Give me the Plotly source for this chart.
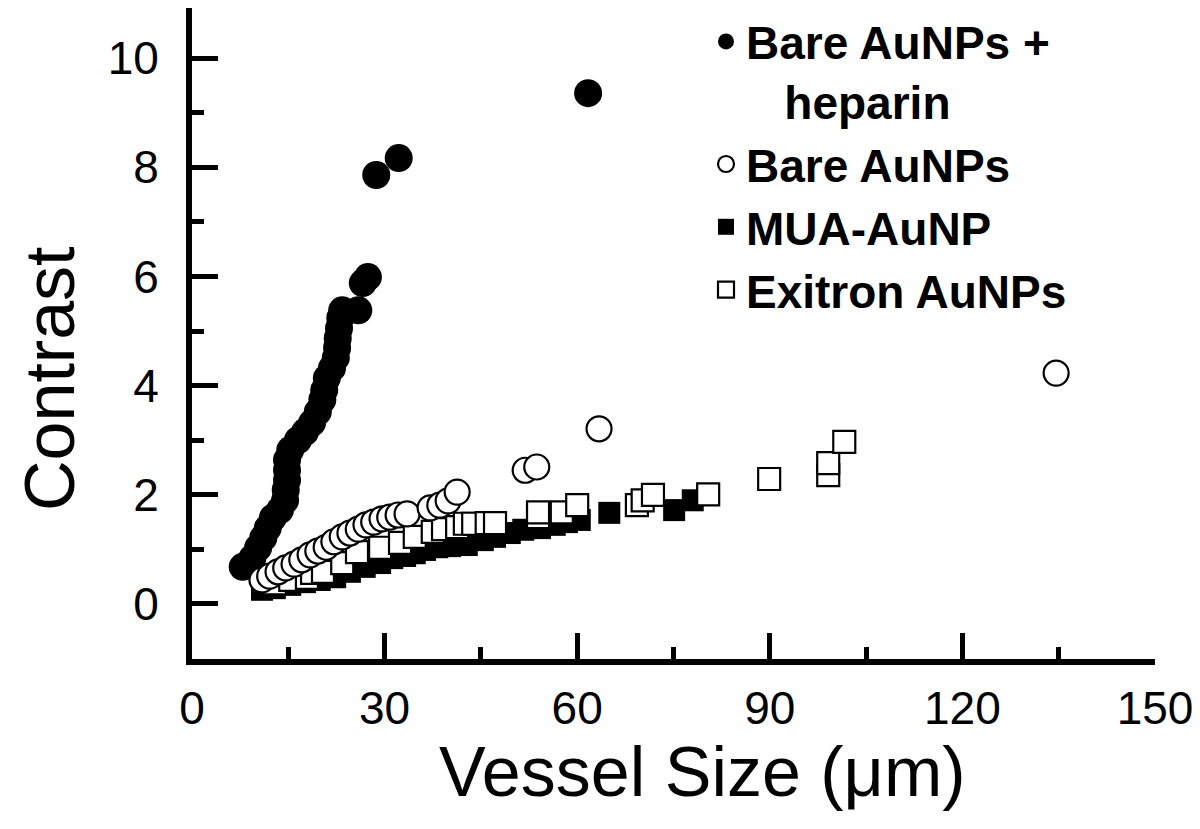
import plotly.graph_objects as go

# ---------------- data ----------------
hep_x = [7.9, 9.4, 10.3, 11.1, 11.8, 12.6, 13.7, 14.5, 14.6, 14.8, 14.8, 14.8, 15.3, 16.5,
         17.6, 18.7, 19.6, 20.3, 20.6, 21.0, 21.8, 22.4, 22.6, 22.7, 22.9, 23.1, 23.4,
         25.9, 26.6, 27.4, 28.7, 32.2, 61.7]
hep_y = [0.68, 0.84, 1.03, 1.21, 1.39, 1.58, 1.72, 1.90, 2.09, 2.27, 2.45, 2.64, 2.82, 3.00,
         3.15, 3.32, 3.52, 3.74, 3.92, 4.14, 4.32, 4.51, 4.69, 4.87, 5.05, 5.24, 5.38,
         5.38, 5.88, 5.99, 7.86, 8.17, 9.36]

bare_x = [10.9, 12.1, 13.4, 14.6, 15.9, 17.1, 18.4, 19.6, 20.9, 22.1, 23.4, 24.6, 25.9, 27.1,
          28.3, 29.6, 30.8, 32.1, 33.5, 37.1, 38.6, 39.9, 41.3, 51.9, 53.7, 63.4, 134.6]
bare_y = [0.44, 0.51, 0.59, 0.66, 0.73, 0.81, 0.90, 0.97, 1.04, 1.14, 1.23, 1.30, 1.37, 1.45,
          1.50, 1.56, 1.59, 1.63, 1.65, 1.76, 1.81, 1.89, 2.05, 2.45, 2.51, 3.21, 4.23]

mua_x = [10.9, 12.9, 15.3, 17.6, 19.9, 22.3, 24.6, 26.9, 29.3, 31.2, 33.2, 34.7, 36.3, 38.2,
         40.2, 42.8, 45.3, 47.2, 49.5, 51.6, 54.2, 56.5, 58.4, 60.4, 65.0, 75.1, 78.0]
mua_y = [0.26, 0.29, 0.35, 0.40, 0.44, 0.49, 0.59, 0.68, 0.75, 0.84, 0.88, 0.93, 0.99, 1.04,
         1.06, 1.08, 1.17, 1.23, 1.30, 1.36, 1.39, 1.45, 1.50, 1.54, 1.67, 1.72, 1.90]

exi_x = [12.9, 15.3, 17.9, 18.7, 20.4, 23.4, 25.7, 29.3, 32.4, 34.7, 37.5, 39.1, 41.3, 42.5,
         43.8, 45.9, 47.2, 53.9, 53.9, 57.6, 60.0, 69.3, 70.2, 71.8, 80.4, 89.9, 99.1, 99.1, 101.6]
exi_y = [0.38, 0.44, 0.48, 0.57, 0.59, 0.75, 0.95, 1.03, 1.12, 1.23, 1.32, 1.37, 1.41, 1.47,
         1.47, 1.48, 1.48, 1.59, 1.68, 1.68, 1.81, 1.81, 1.90, 2.00, 2.01, 2.29, 2.36, 2.58, 2.97]

names = ["Bare AuNPs +<br>\u00a0\u00a0\u00a0heparin", "Bare AuNPs", "MUA-AuNP", "Exitron AuNPs"]

x_ticks = [0, 30, 60, 90, 120, 150]
y_ticks = [0, 2, 4, 6, 8, 10]

# ---------------- layout constants ----------------
# the page body adds an 8 px offset; positions below are in figure pixels
OFF = 8
W, H = 1200, 829
L, R, T, B = 192 - OFF, 53, 0, 178
PW, PH = W - L - R, H - T - B
FONT = "Liberation Sans, Arial, sans-serif"


def px(xs):
    """screen x pixel -> paper coordinate"""
    return (xs - OFF - L) / PW


def py(ys):
    """screen y pixel -> paper coordinate"""
    return (H - B - (ys - OFF)) / PH


fig = go.Figure()
fig.add_trace(go.Scatter(x=hep_x, y=hep_y, mode="markers", name=names[0], legendrank=1,
                         marker=dict(symbol="circle", size=28, color="black",
                                     line=dict(width=0))))
fig.add_trace(go.Scatter(x=mua_x, y=mua_y, mode="markers", name=names[2], legendrank=3,
                         marker=dict(symbol="square", size=22, color="black",
                                     line=dict(width=0))))
fig.add_trace(go.Scatter(x=exi_x, y=exi_y, mode="markers", name=names[3], legendrank=4,
                         marker=dict(symbol="square", size=22, color="white",
                                     line=dict(width=2.2, color="black"))))
fig.add_trace(go.Scatter(x=bare_x, y=bare_y, mode="markers", name=names[1], legendrank=2,
                         marker=dict(symbol="circle", size=25, color="white",
                                     line=dict(width=2.2, color="black"))))

axis_common = dict(showline=True, linewidth=6, linecolor="black", showgrid=False,
                   zeroline=False, ticks="inside", tickwidth=5, ticklen=26,
                   tickcolor="black", automargin=False,
                   tickfont=dict(family=FONT, size=46, color="black"))

fig.update_xaxes(range=[0, 150], tickvals=x_ticks, ticktext=[str(v) for v in x_ticks],
                 minor=dict(ticks="inside", ticklen=12, tickwidth=5, tickcolor="black",
                            dtick=15, tick0=0),
                 ticklabelstandoff=4, **axis_common)
fig.update_yaxes(range=[-1.008, 10.92], tickvals=y_ticks, ticktext=[str(v) for v in y_ticks],
                 minor=dict(ticks="inside", ticklen=12, tickwidth=5, tickcolor="black",
                            dtick=1, tick0=0),
                 ticklabelstandoff=18, **axis_common)

fig.update_layout(
    width=W, height=H,
    margin=dict(l=L, r=R, t=T, b=B, pad=0, autoexpand=False),
    paper_bgcolor="white", plot_bgcolor="white",
    showlegend=True,
    legend=dict(x=px(706), y=py(5), xanchor="left", yanchor="top",
                bgcolor="rgba(0,0,0,0)", borderwidth=0, valign="top",
                font=dict(family=FONT, size=46, color="black", weight="bold"),
                traceorder="normal", itemsizing="trace"),
    annotations=[
        dict(text="Vessel Size (\u03bcm)", xref="paper", yref="paper",
             x=px(702), y=py(772), xanchor="center", yanchor="middle", showarrow=False,
             font=dict(family=FONT, size=70, color="black")),
        dict(text="Contrast", xref="paper", yref="paper", textangle=-90,
             x=px(50), y=py(379), xanchor="center", yanchor="middle", showarrow=False,
             font=dict(family=FONT, size=70, color="black")),
    ],
)

fig.write_html("out.html")
